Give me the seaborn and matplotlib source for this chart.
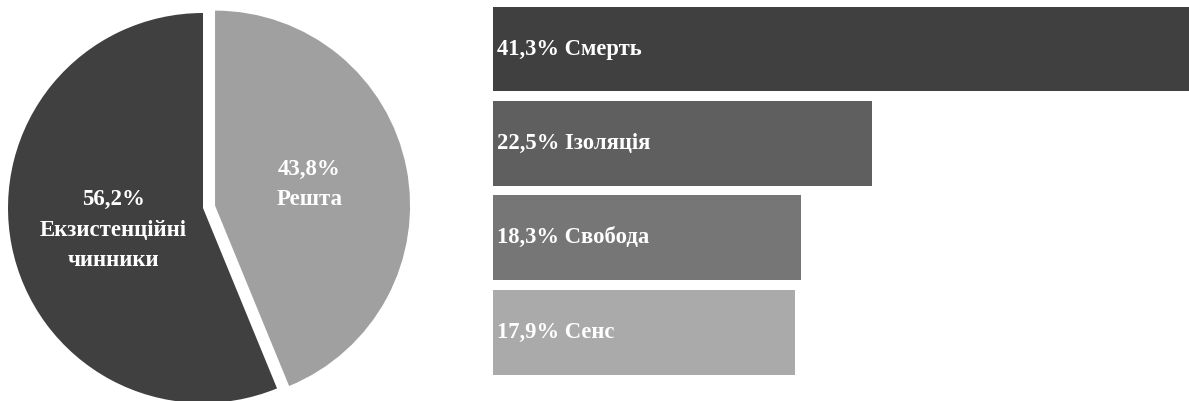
import matplotlib
matplotlib.use("Agg")
import matplotlib.pyplot as plt
import seaborn as sns
import pandas as pd

# Pie: share of existential factors vs the rest
pie_names = ["Решта", "Екзистенційні\nчинники"]
pie_values = [43.8, 56.2]
pie_colors = ["#a0a0a0", "#404040"]

# Bars: breakdown of existential factors
bar_names = ["Смерть", "Ізоляція", "Свобода", "Сенс"]
bar_values = [41.3, 22.5, 18.3, 17.9]
bar_colors = ["#404040", "#5f5f5f", "#767676", "#aaaaaa"]

sns.set_theme(style="white")
plt.rcParams["font.family"] = ["Liberation Serif", "DejaVu Serif"]

W, H = 1189, 401
fig = plt.figure(figsize=(W / 100, H / 100), dpi=100)
fig.patch.set_facecolor("white")


def fmt(v):
    return f"{v:.1f}%".replace(".", ",")


# ---- pie ----
r_px = 195.0
cx, cy = 203.0, 208.0
ax_pie = fig.add_axes([0, 0, 406 / W, 1])
wedges, texts, autotexts = ax_pie.pie(
    pie_values,
    colors=pie_colors,
    startangle=90,
    counterclock=False,
    explode=[0.063, 0],
    autopct="%1.1f%%",
    pctdistance=0.48,
    wedgeprops=dict(linewidth=0),
    textprops=dict(color="white", fontsize=16.5, fontweight="bold"),
)
# label anchors inside each wedge (data units, radius = 1)
label_xy = [(0.545, 0.12), (-0.46, -0.113)]
for t, v, name, xy in zip(autotexts, pie_values, pie_names, label_xy):
    t.set_text(fmt(v) + "\n" + name)
    t.set_linespacing(1.6)
    t.set_ha("center")
    t.set_va("center")
    t.set_position(xy)
ax_pie.set_xlim(-cx / r_px, (406 - cx) / r_px)
ax_pie.set_ylim(-(H - cy) / r_px, cy / r_px)
ax_pie.set_aspect("equal", adjustable="box")
ax_pie.axis("off")

# ---- horizontal bars ----
slot = 94.4
top_px = 49.0 - slot / 2
ax_bar = fig.add_axes([493 / W, 1 - (top_px + 4 * slot) / H, 1 - 493 / W, 4 * slot / H])
df = pd.DataFrame({"name": bar_names, "value": bar_values})
sns.barplot(
    data=df, x="value", y="name", hue="name", palette=bar_colors,
    legend=False, width=0.9, ax=ax_bar, linewidth=0, saturation=1,
)
ax_bar.set_xlim(0, max(bar_values))
ax_bar.set_ylim(len(bar_names) - 0.5, -0.5)
for i, (name, v) in enumerate(zip(bar_names, bar_values)):
    ax_bar.annotate(
        f"{fmt(v)} {name}", xy=(0, i), xytext=(3, 0), textcoords="offset points",
        ha="left", va="center", color="white", fontsize=16.3, fontweight="bold",
    )
ax_bar.axis("off")

fig.savefig("out.png", dpi=100, facecolor="white")
